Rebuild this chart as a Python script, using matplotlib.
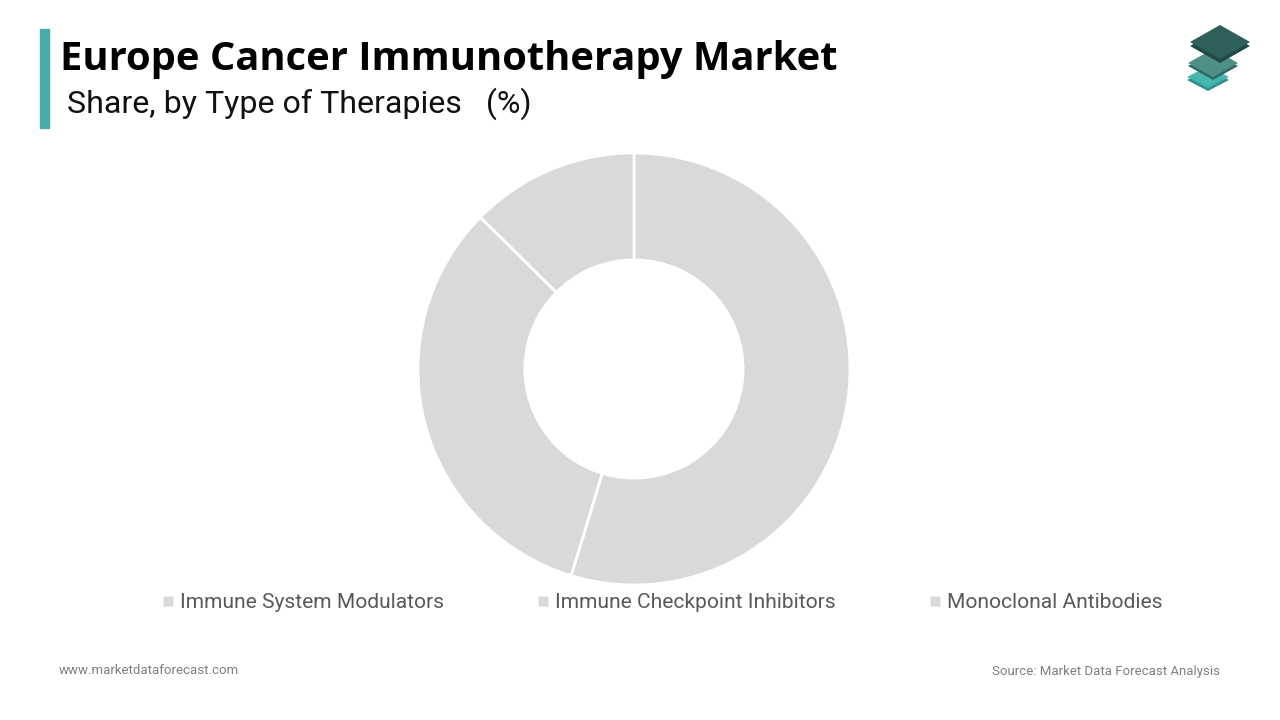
import matplotlib.pyplot as plt
from matplotlib.patches import Polygon, Rectangle
from matplotlib.lines import Line2D

# --- данные ---
therapies = ['Immune System Modulators', 'Immune Checkpoint Inhibitors', 'Monoclonal Antibodies']
shares = [54.7, 32.7, 12.6]
slice_colors = ['#d9d9d9', '#d9d9d9', '#d9d9d9']

title = 'Europe Cancer Immunotherapy Market'
subtitle = 'Share, by Type of Therapies   (%)'
site = 'www.marketdataforecast.com'
source = 'Source: Market Data Forecast Analysis'

W, H = 1280, 720
fig = plt.figure(figsize=(12.8, 7.2), dpi=100)
fig.patch.set_facecolor('white')

def fx(x):
    return x / W

def fy(y):
    return 1 - y / H

# --- кольцевая диаграмма ---
cx, cy, r = 634, 369, 216
ax = fig.add_axes([fx(cx - r), fy(cy + r), 2 * r / W, 2 * r / H])
ax.pie(shares, colors=slice_colors, startangle=90, counterclock=False,
       radius=1, wedgeprops=dict(width=0.495, edgecolor='white', linewidth=2))
ax.set_xlim(-1, 1)
ax.set_ylim(-1, 1)
ax.set_aspect('equal')
ax.axis('off')

# --- заголовок ---
fig.add_artist(Rectangle((fx(40), fy(128)), 9 / W, 99 / H, color='#4aabaa',
                         transform=fig.transFigure))
fig.text(fx(60), fy(70), title, fontsize=28.7, fontweight='bold',
         family='Open Sans', color='#000000', va='baseline')
fig.text(fx(67), fy(113), subtitle, fontsize=23.1, family='Roboto',
         color='#111111', va='baseline')

# --- логотип ---
def diamond(xc, yc, w, h, color):
    pts = [(xc, yc - h / 2), (xc + w / 2, yc), (xc, yc + h / 2), (xc - w / 2, yc)]
    pts = [(fx(x), fy(y)) for x, y in pts]
    fig.add_artist(Polygon(pts, closed=True, facecolor=color, edgecolor='none',
                           transform=fig.transFigure))

diamond(1208, 80, 42, 22, '#2f8f89')
diamond(1208, 77, 42, 22, '#45b5ad')
diamond(1213, 66, 50, 28, '#2f6b66')
diamond(1213, 63, 50, 28, '#4e8f88')
diamond(1220, 46, 60, 34, '#1f4a46')
diamond(1220, 42, 60, 34, '#2e5f5a')

# --- легенда ---
handles = [Line2D([], [], marker='s', linestyle='none', markersize=7,
                  markerfacecolor=c, markeredgecolor='none') for c in slice_colors]
leg = fig.legend(handles, therapies, ncol=3, loc='center',
                 bbox_to_anchor=(fx(661), fy(603)), frameon=False,
                 prop=dict(family='Roboto', size=15.1), handletextpad=0.2,
                 columnspacing=4.3, handlelength=0.8)
for t in leg.get_texts():
    t.set_color('#595959')

# --- подвал ---
fig.text(fx(59), fy(671), site, fontsize=9.5, family='Roboto',
         color='#7f7f7f', va='center')
fig.text(fx(1220), fy(671), source, fontsize=9.5, family='Roboto',
         color='#7f7f7f', va='center', ha='right')

fig.savefig('out.png', dpi=100)
